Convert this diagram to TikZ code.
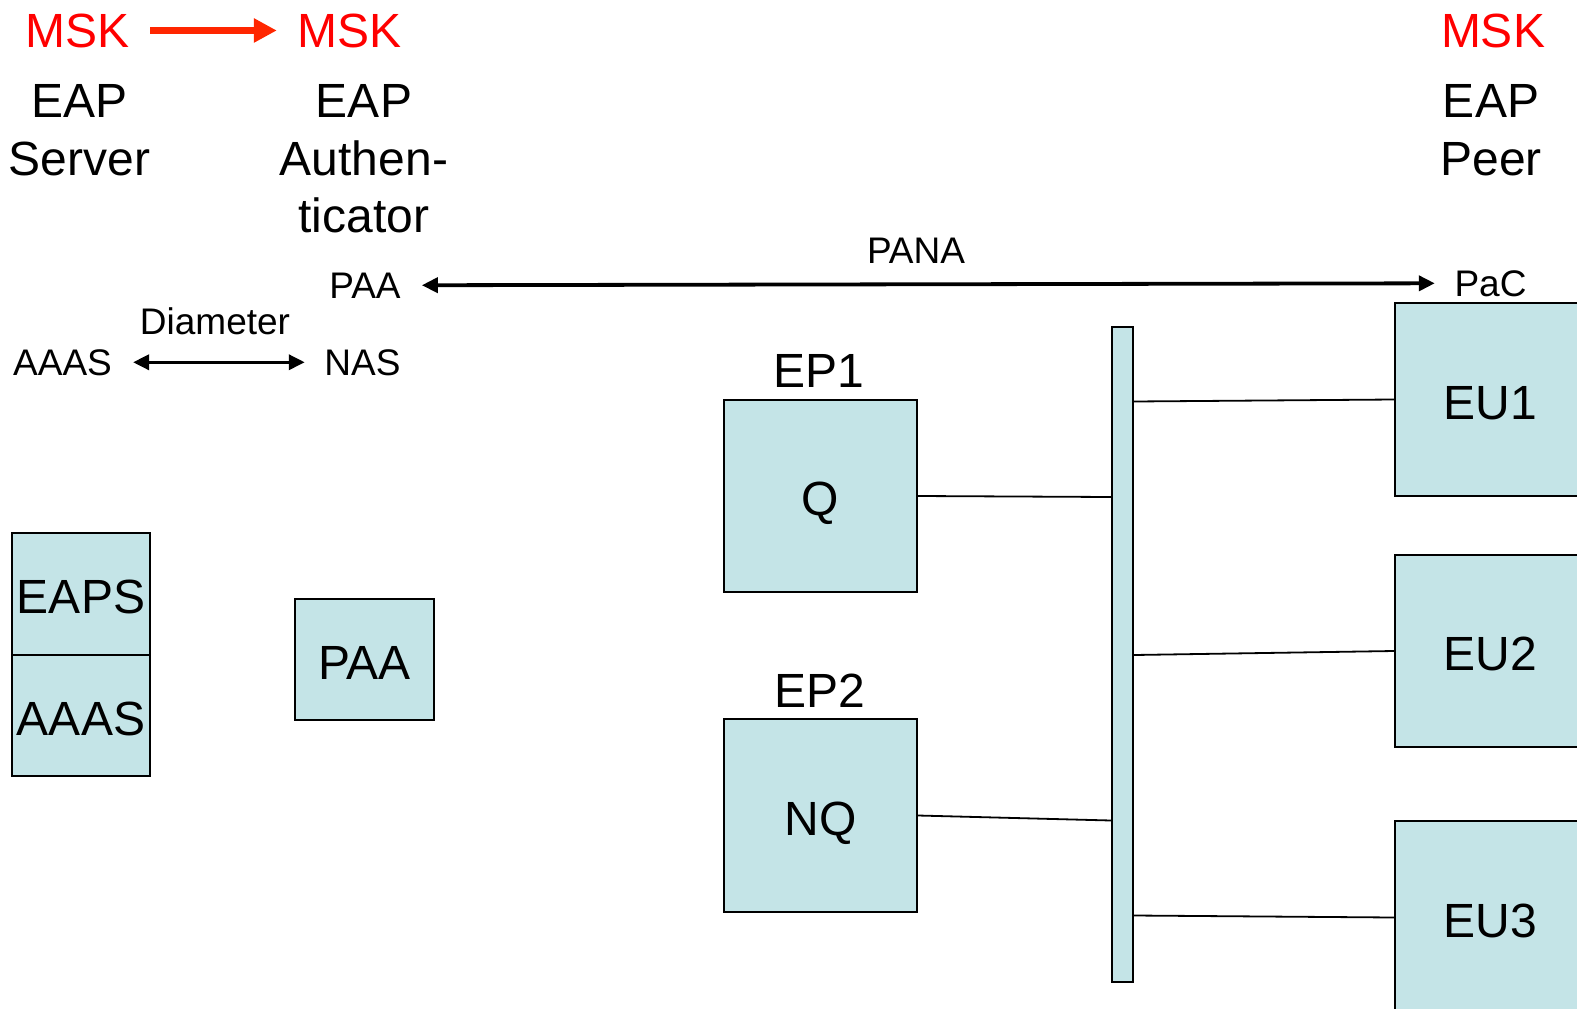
\documentclass[tikz,border=0pt]{standalone}
\usepackage{fontspec}
\setmainfont{Liberation Sans}
\usetikzlibrary{arrows.meta,calc}
\definecolor{boxfill}{RGB}{196,228,231}
\definecolor{mskred}{RGB}{255,0,0}
\definecolor{keyarrow}{RGB}{255,38,0}

\begin{document}
\begin{tikzpicture}[x=1pt,y=-1pt,
  box/.style={draw=black, line width=2pt, fill=boxfill, inner sep=0pt,
              text height=39.5pt, text depth=0pt, font=\fontsize{48}{57}\selectfont},
  big/.style={inner sep=0pt, font=\fontsize{48}{57.5}\selectfont, align=center},
  small/.style={inner sep=0pt, font=\fontsize{37}{44}\selectfont},
  link/.style={line width=1.8pt},
  dbl/.style={line width=3.8pt,
              {Triangle[length=16pt,width=15pt]}-{Triangle[length=16pt,width=15pt]}},
  keyflow/.style={line width=7pt, draw=keyarrow,
              -{Triangle[length=23pt,width=23pt]}},
]
\useasboundingbox (0,0) rectangle (1577,1009);
\clip (0,0) rectangle (1577,1009);

% key labels and role headings
\node[big, text=mskred, anchor=base] (mskS) at (77.5,47) {MSK};
\node[big, text=mskred, anchor=base] (mskA) at (349.5,47) {MSK};
\node[big, text=mskred, anchor=base] (mskP) at (1493,47) {MSK};
\node[big, anchor=north] (srv)  at (79.5,84.5)  {EAP\\Server};
\node[big, anchor=north] (auth) at (364,84.5)   {EAP\\Authen-\\ticator};
\node[big, anchor=north] (peer) at (1491,84.5)  {EAP\\Peer};

% protocol labels
\node[small, anchor=base] (pana)  at (916,263)    {PANA};
\node[small, anchor=base] (paaL)  at (365,298)    {PAA};
\node[small, anchor=base] (pac)   at (1490.5,296) {PaC};
\node[small, anchor=base] (diam)  at (215,334)    {Diameter};
\node[small, anchor=base] (aaasL) at (62.5,375)   {AAAS};
\node[small, anchor=base] (nas)   at (362.5,375)  {NAS};

% enforcement point captions
\node[big, anchor=base] (ep1) at (818.5,387) {EP1};
\node[big, anchor=base] (ep2) at (820,707)   {EP2};

% boxes
\node[box, minimum width=138pt, minimum height=122pt] (eaps) at (81,594)      {EAPS};
\node[box, minimum width=138pt, minimum height=121pt] (aaas) at (81,715.5)    {AAAS};
\node[box, minimum width=139pt, minimum height=121pt] (paa)  at (364.5,659.5) {PAA};
\node[box, minimum width=193pt, minimum height=192pt] (q)    at (820.5,496)   {Q};
\node[box, minimum width=193pt, minimum height=193pt] (nq)   at (820.5,815.5) {NQ};
\node[box, minimum width=21pt,  minimum height=655pt] (bar)  at (1122.5,654.5) {};
\node[box, minimum width=190pt, minimum height=193pt] (eu1)  at (1490,399.5)  {EU1};
\node[box, minimum width=190pt, minimum height=192pt] (eu2)  at (1490,651)    {EU2};
\node[box, minimum width=190pt, minimum height=193pt] (eu3)  at (1490,917.5)  {EU3};

% links to the shared segment
\draw[link] (q.east)   -- ($(bar.west |- q.east)+(0,1)$);
\draw[link] (nq.east)  -- ($(bar.west |- nq.east)+(0,5)$);
\draw[link] ($(bar.east |- eu1.west)+(0,2)$)  -- (eu1.west);
\draw[link] ($(bar.east |- eu2.west)+(0,4)$)  -- (eu2.west);
\draw[link] ($(bar.east |- eu3.west)+(0,-2)$) -- (eu3.west);

% protocol arrows
\draw[dbl, shorten <=21pt, shorten >=19.5pt] (paaL.east) -- (pac.west);
\draw[dbl, line width=3.5pt, shorten <=21pt, shorten >=19.5pt] (aaasL.east) -- (nas.west);

% key transfer
\draw[keyflow, shorten <=20.5pt, shorten >=20.5pt] (mskS.east) -- (mskA.west);
\end{tikzpicture}
\end{document}
